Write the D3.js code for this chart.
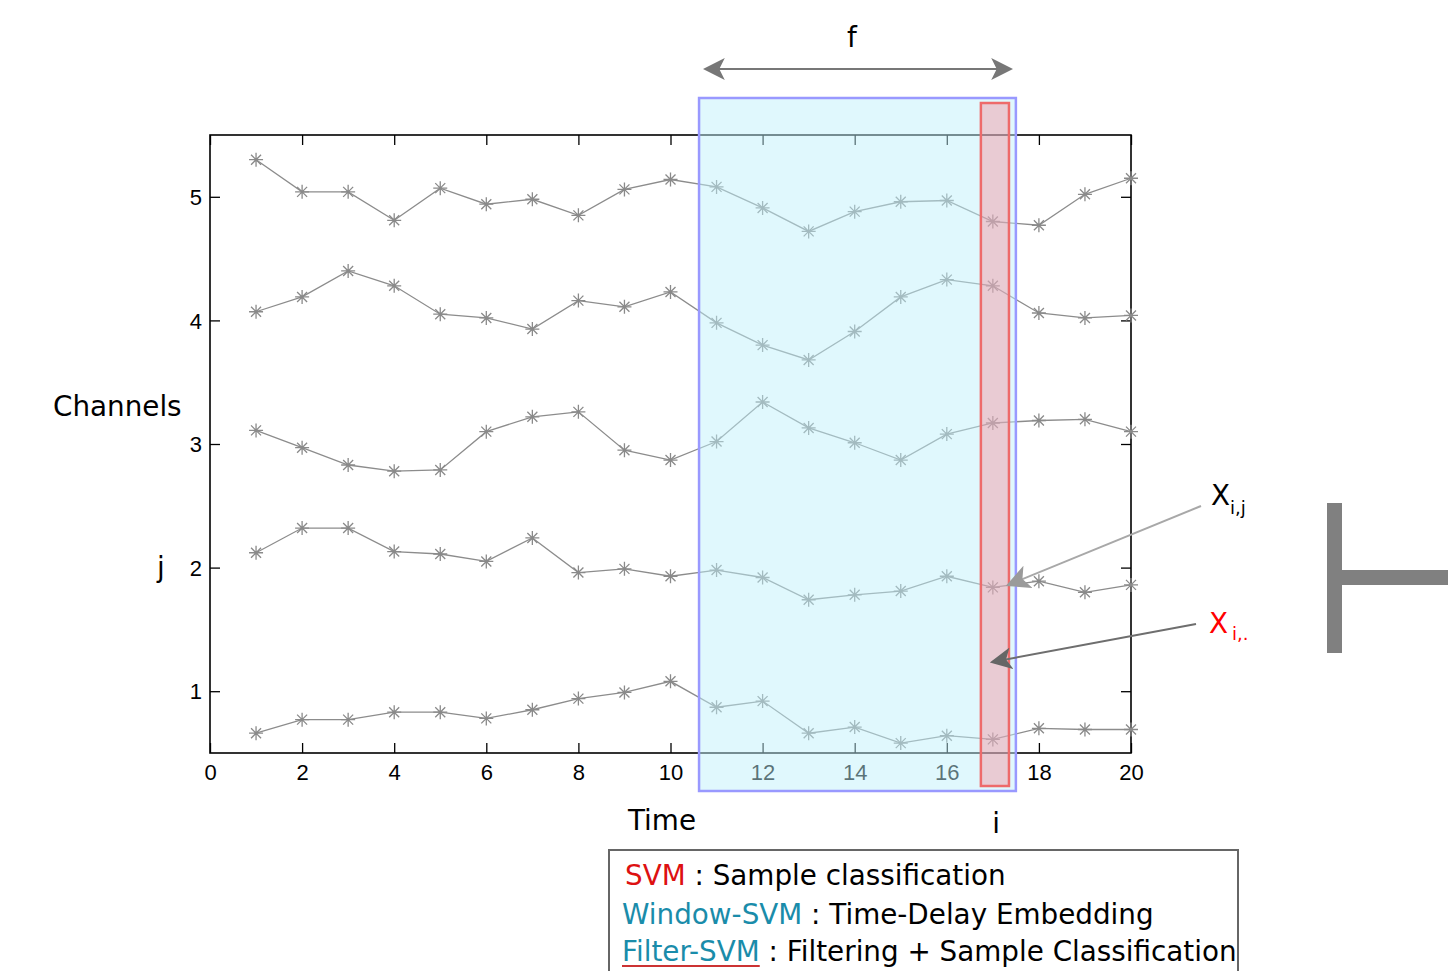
<!DOCTYPE html>
<html lang="en">
<head>
  <meta charset="UTF-8">
  <title>Channels over time</title>
  <script src="https://d3js.org/d3.v7.min.js"></script>
  <style>
    body { margin: 0; background: #fff; }
    svg { display: block; }
    .tick text { font-family: "Liberation Sans", Arial, sans-serif; font-size: 22px; fill: #000; }
    .lbl { font-family: "DejaVu Sans", sans-serif; font-size: 27.8px; }
  </style>
</head>
<body>
  <svg id="chart" width="1448" height="971"></svg>
  <script>
    // time steps and channel values
    const times = d3.range(1, 21);
    const ch5 = [5.30, 5.04, 5.04, 4.81, 5.07, 4.94, 4.98, 4.85, 5.06, 5.14, 5.08, 4.91, 4.72, 4.88, 4.96, 4.97, 4.80, 4.77, 5.02, 5.15];
    const ch4 = [4.07, 4.19, 4.40, 4.28, 4.05, 4.02, 3.93, 4.16, 4.11, 4.23, 3.98, 3.80, 3.68, 3.91, 4.19, 4.33, 4.28, 4.06, 4.02, 4.04];
    const ch3 = [3.11, 2.97, 2.83, 2.78, 2.79, 3.10, 3.22, 3.26, 2.95, 2.87, 3.02, 3.34, 3.13, 3.01, 2.87, 3.08, 3.17, 3.19, 3.20, 3.10];
    const ch2 = [2.12, 2.32, 2.32, 2.13, 2.11, 2.05, 2.24, 1.96, 1.99, 1.93, 1.98, 1.92, 1.74, 1.78, 1.81, 1.93, 1.84, 1.89, 1.80, 1.86];
    const ch1 = [0.66, 0.77, 0.77, 0.83, 0.83, 0.78, 0.85, 0.94, 0.99, 1.08, 0.87, 0.92, 0.66, 0.71, 0.58, 0.64, 0.61, 0.70, 0.69, 0.69];
    const channels = [ch1, ch2, ch3, ch4, ch5];

    const xTicks = [0, 2, 4, 6, 8, 10, 12, 14, 16, 18, 20];
    const yTicks = [1, 2, 3, 4, 5];

    // window (Window-SVM) and current sample i
    const windowRange = [10.62, 17.5];
    const sampleRange = [16.74, 17.35];

    const svg = d3.select("#chart");
    const x = d3.scaleLinear().domain([0, 20]).range([210, 1131]);
    const y = d3.scaleLinear().domain([0.5, 5.5]).range([753, 135]);

    // axes, ticks inward on all four sides
    svg.append("g").attr("class", "xaxis").attr("transform", "translate(0,753)")
      .call(d3.axisBottom(x).tickValues(xTicks).tickSizeInner(-10).tickSizeOuter(0).tickPadding(20))
      .call(g => g.select(".domain").remove());
    svg.append("g").attr("transform", "translate(0,135)")
      .call(d3.axisTop(x).tickValues(xTicks).tickSizeInner(-10).tickSizeOuter(0).tickFormat(""))
      .call(g => g.select(".domain").remove());
    svg.append("g").attr("class", "yaxis").attr("transform", "translate(210,0)")
      .call(d3.axisLeft(y).tickValues(yTicks).tickSizeInner(-10).tickSizeOuter(0).tickPadding(8).tickFormat(d3.format("d")))
      .call(g => g.select(".domain").remove());
    svg.append("g").attr("transform", "translate(1131,0)")
      .call(d3.axisRight(y).tickValues(yTicks).tickSizeInner(-10).tickSizeOuter(0).tickFormat(""))
      .call(g => g.select(".domain").remove());
    svg.selectAll(".tick line").attr("stroke", "#000").attr("stroke-width", 1.3);
    svg.selectAll(".yaxis .tick text").attr("dy", "0.35em");
    svg.selectAll(".xaxis .tick text").attr("dy", "0.3em");

    svg.append("rect")
      .attr("x", x(0)).attr("y", y(5.5))
      .attr("width", x(20) - x(0)).attr("height", y(0.5) - y(5.5))
      .attr("fill", "none").attr("stroke", "#000").attr("stroke-width", 1.6);

    // series
    const line = d3.line().x((d, i) => x(times[i])).y(d => y(d));
    const star = "M-7,0L7,0M0,-7L0,7M-5,-5L5,5M-5,5L5,-5";
    channels.forEach(vals => {
      svg.append("path").datum(vals)
        .attr("d", line).attr("fill", "none")
        .attr("stroke", "#8c8c8c").attr("stroke-width", 1.3);
      svg.append("g").selectAll("path").data(vals).join("path")
        .attr("transform", (d, i) => `translate(${x(times[i])},${y(d)})`)
        .attr("d", star).attr("stroke", "#8a8a8a").attr("stroke-width", 1.3).attr("fill", "none");
    });

    // window overlay
    svg.append("rect")
      .attr("x", x(windowRange[0])).attr("y", 98)
      .attr("width", x(windowRange[1]) - x(windowRange[0])).attr("height", 693)
      .attr("fill", "rgba(190,240,250,0.48)")
      .attr("stroke", "#9999ff").attr("stroke-width", 2.5);

    // current sample overlay
    svg.append("rect")
      .attr("x", x(sampleRange[0])).attr("y", 103)
      .attr("width", x(sampleRange[1]) - x(sampleRange[0])).attr("height", 683)
      .attr("fill", "rgba(255,100,115,0.3)")
      .attr("stroke", "#ee6a6a").attr("stroke-width", 2.5);

    // arrow markers
    const defs = svg.append("defs");
    function marker(id, color, size) {
      defs.append("marker").attr("id", id)
        .attr("viewBox", "0 -5 10 10").attr("refX", 9).attr("refY", 0)
        .attr("markerWidth", size).attr("markerHeight", size).attr("markerUnits", "userSpaceOnUse")
        .attr("orient", "auto-start-reverse")
        .append("path").attr("d", "M0,-5L10,0L0,5L2.5,0Z").attr("fill", color);
    }
    marker("arrF", "#777", 22);
    marker("arrJ", "#9a9a9a", 24);
    marker("arrI", "#666", 22);

    // f span arrow
    svg.append("line")
      .attr("x1", 705).attr("y1", 69).attr("x2", 1011).attr("y2", 69)
      .attr("stroke", "#777").attr("stroke-width", 2)
      .attr("marker-start", "url(#arrF)").attr("marker-end", "url(#arrF)");
    svg.append("text").attr("class", "lbl").attr("x", 852).attr("y", 47)
      .attr("text-anchor", "middle").text("f");

    // axis titles
    svg.append("text").attr("class", "lbl").attr("x", 53).attr("y", 416).text("Channels");
    svg.append("text").attr("class", "lbl").attr("x", 157).attr("y", 577).text("j");
    svg.append("text").attr("class", "lbl").attr("x", 628).attr("y", 830).text("Time");
    svg.append("text").attr("class", "lbl").attr("x", 996).attr("y", 833)
      .attr("text-anchor", "middle").text("i");

    // annotation arrows
    svg.append("line")
      .attr("x1", 1201).attr("y1", 506).attr("x2", 1008).attr("y2", 585)
      .attr("stroke", "#a8a8a8").attr("stroke-width", 2).attr("marker-end", "url(#arrJ)");
    svg.append("line")
      .attr("x1", 1196).attr("y1", 624).attr("x2", 992).attr("y2", 662)
      .attr("stroke", "#6e6e6e").attr("stroke-width", 2).attr("marker-end", "url(#arrI)");

    const xij = svg.append("text").attr("class", "lbl").attr("x", 1211).attr("y", 505);
    xij.append("tspan").text("X");
    xij.append("tspan").attr("font-size", 18).attr("dy", 9).text("i,j");
    const xi = svg.append("text").attr("class", "lbl").attr("x", 1209).attr("y", 633).attr("fill", "#ff0000");
    xi.append("tspan").text("X");
    xi.append("tspan").attr("font-size", 18).attr("dx", 4).attr("dy", 7).text("i,.");

    // T shape on the right edge
    svg.append("rect").attr("x", 1327).attr("y", 503).attr("width", 15).attr("height", 150).attr("fill", "#808080");
    svg.append("rect").attr("x", 1342).attr("y", 570).attr("width", 110).attr("height", 15).attr("fill", "#808080");

    // legend box
    svg.append("rect").attr("x", 609).attr("y", 850).attr("width", 629).attr("height", 140)
      .attr("fill", "#fff").attr("stroke", "#666").attr("stroke-width", 2);
    const legend = [
      { name: "SVM", color: "#dd1111", desc: " : Sample classification", y: 885 },
      { name: "Window-SVM", color: "#1a8caa", desc: " : Time-Delay Embedding", y: 924 },
      { name: "Filter-SVM", color: "#1a8caa", desc: " : Filtering + Sample Classification", y: 961 }
    ];
    legend.forEach(d => {
      const t = svg.append("text").attr("class", "lbl").attr("x", d.name === "SVM" ? 625 : 622).attr("y", d.y);
      t.append("tspan").attr("fill", d.color).text(d.name);
      t.append("tspan").attr("fill", "#000").text(d.desc);
    });
    // spell-check underline under Filter-SVM
    const fw = svg.append("text").attr("class", "lbl").attr("visibility", "hidden").text("Filter-SVM");
    const w = fw.node().getComputedTextLength();
    fw.remove();
    svg.append("line").attr("x1", 622).attr("x2", 622 + w).attr("y1", 966).attr("y2", 966)
      .attr("stroke", "#cc3333").attr("stroke-width", 2);
  </script>
</body>
</html>
